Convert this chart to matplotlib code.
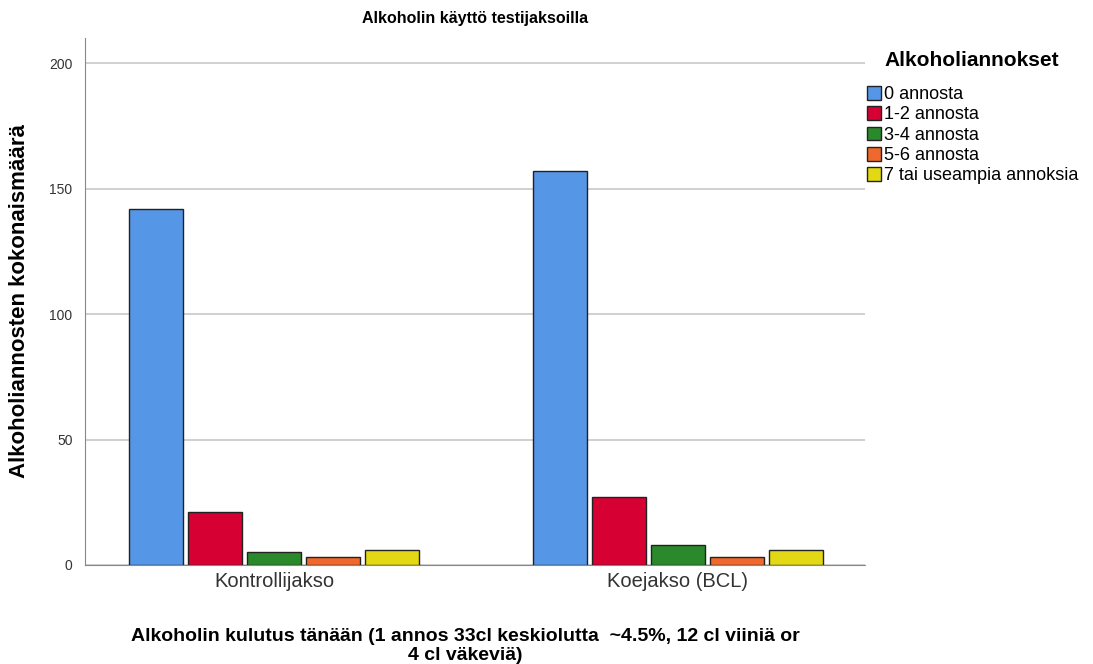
import matplotlib.pyplot as plt
import numpy as np

periods = ["Kontrollijakso", "Koejakso (BCL)"]
categories = ["0 annosta", "1-2 annosta", "3-4 annosta", "5-6 annosta",
              "7 tai useampia annoksia"]
counts = [
    [142, 157],  # 0 annosta
    [21, 27],    # 1-2 annosta
    [5, 8],      # 3-4 annosta
    [3, 3],      # 5-6 annosta
    [6, 6],      # 7+
]
colors = ["#5596E6", "#D70033", "#2A8A2B", "#F0682B", "#E3D814"]

plt.rcParams["font.family"] = ["Liberation Sans", "DejaVu Sans"]

fig = plt.figure(figsize=(10.93, 6.64), dpi=100)
ax = fig.add_axes([85 / 1093, 1 - 565 / 664, 780 / 1093, 527 / 664])

x = np.arange(len(periods))
width = 0.134
step = 0.146
for i, (cat, vals) in enumerate(zip(categories, counts)):
    ax.bar(x + (i - 2) * step, vals, width, color=colors[i], edgecolor="#222222",
           linewidth=1, label=cat, zorder=3)

ax.set_xlim(-0.468, 1.463)
ax.set_ylim(0, 210)
ax.set_yticks([0, 50, 100, 150, 200])
ax.yaxis.grid(True, color="#c8c8c8", linewidth=1.2, zorder=0)
ax.set_xticks(x)
ax.set_xticklabels(periods, fontsize=14.5, color="#333333")
ax.tick_params(axis="y", labelsize=10, colors="#333333", length=0, pad=9)
ax.tick_params(axis="x", length=0, pad=5)
for s in ["top", "right"]:
    ax.spines[s].set_visible(False)
for s in ["left", "bottom"]:
    ax.spines[s].set_color("#888888")

ax.set_ylabel("Alkoholiannosten kokonaismäärä", fontsize=16, fontweight="bold",
              labelpad=14)
fig.text(465 / 1093, 1 - 646 / 664,
         "Alkoholin kulutus tänään (1 annos 33cl keskiolutta  ~4.5%, 12 cl viiniä or\n4 cl väkeviä)",
         ha="center", va="center", fontsize=14, fontweight="bold", linespacing=1.08)
fig.text(475 / 1093, 1 - 19 / 664, "Alkoholin käyttö testijaksoilla", ha="center",
         va="center", fontsize=11.5, fontweight="bold")

fig.text(884 / 1093, 1 - 61 / 664, "Alkoholiannokset", ha="left", va="center",
         fontsize=15, fontweight="bold")
leg = ax.legend(loc="upper left", bbox_to_anchor=(867 / 1093, 1 - 86 / 664),
                bbox_transform=fig.transFigure, frameon=False, fontsize=13,
                handlelength=0.8, handleheight=0.8,
                handletextpad=0.15, labelspacing=0.17, borderaxespad=0,
                borderpad=0)

fig.savefig("out.png", dpi=100)
